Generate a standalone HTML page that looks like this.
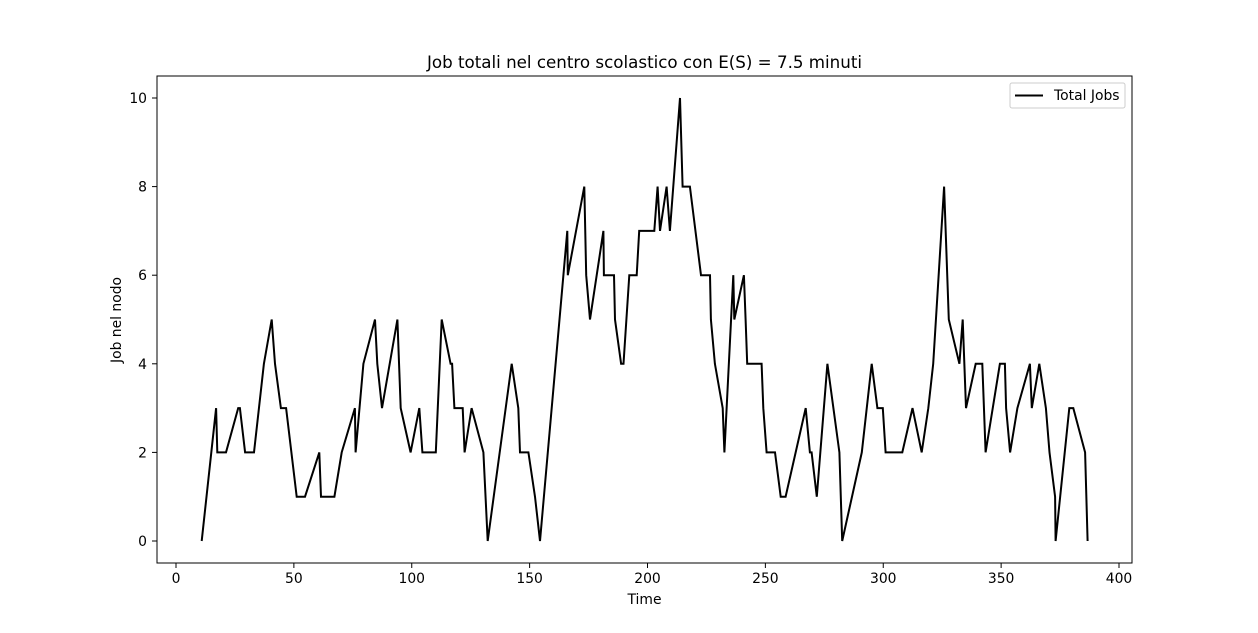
<!DOCTYPE html>
<html><head><meta charset="utf-8"><style>
body{margin:0;background:#fff}
svg{display:block;font-family:"DejaVu Sans","Liberation Sans",sans-serif}
</style></head><body>
<svg id="chart" width="1258" height="633" xmlns="http://www.w3.org/2000/svg">
<rect width="1258" height="633" fill="#fff"/>
<text x="644.5" y="68" font-size="16.7" text-anchor="middle">Job totali nel centro scolastico con E(S) = 7.5 minuti</text>
<g id="xticks"></g>
<g id="yticks"></g>
<path id="series" fill="none" stroke="#000" stroke-width="2" stroke-linejoin="miter"/>
<rect x="157" y="76" width="975" height="487" fill="none" stroke="#000" stroke-width="1"/>
<text x="644.5" y="604" font-size="13.9" text-anchor="middle">Time</text>
<text x="0" y="0" font-size="13.9" text-anchor="middle" transform="translate(121,320) rotate(-90)">Job nel nodo</text>
<g>
<rect x="1010" y="83" width="115" height="25" rx="2" fill="#fff" stroke="#ccc"/>
<line x1="1015" y1="95.5" x2="1043" y2="95.5" stroke="#000" stroke-width="2"/>
<text x="1054" y="100" font-size="13.9">Total Jobs</text>
</g>
</svg>
<script>
const times=[10.9,17,17.5,21.2,26.4,27.1,29.3,33.1,37.3,40.6,42,44.5,46.7,51.2,54.7,60.8,61.5,67.2,70.3,75.9,76.2,79.5,84.4,85.4,87.4,93.9,95.3,99.5,103.2,104.5,110.2,112.7,116.5,117.1,118.1,121.6,122.4,125.4,130.4,132.2,142.4,145.2,145.9,149.5,152.3,154.4,
166,166.2,173.2,174,175.6,181.3,181.5,185.8,186.2,188.8,189.8,192.3,195.4,196.5,202.9,204.3,205.3,208.1,209.5,213.8,214.9,218,222.7,226.5,226.9,228.6,231.9,232.6,236.4,236.8,240.9,241.6,242.3,248.4,249.1,250.5,254.1,256.5,258.6,
267.1,268.9,269.6,271.8,276.3,281.4,282.6,290.9,295.1,297.5,299.8,301,308.1,312.4,316.3,319.1,321.2,325.8,327.8,332.3,333.7,335.1,339.2,342,343.4,349.5,351.6,352.1,353.8,356.9,362.2,363,366.2,369,370.5,372.9,373.1,378.9,380.6,385.6,386.7];
const jobs=[0,3,2,2,3,3,2,2,4,5,4,3,3,1,1,2,1,1,2,3,2,4,5,4,3,5,3,2,3,2,2,5,4,4,3,3,2,3,2,0,4,3,2,2,1,0,
7,6,8,6,5,7,6,6,5,4,4,6,6,7,7,8,7,8,7,10,8,8,6,6,5,4,3,2,6,5,6,5,4,4,3,2,2,1,1,
3,2,2,1,4,2,0,2,4,3,3,2,2,3,2,3,4,8,5,4,5,3,4,4,2,4,4,3,2,3,4,3,4,3,2,1,0,3,3,2,0];
const xTicks=[0,50,100,150,200,250,300,350,400];
const yTicks=[0,2,4,6,8,10];
const NS="http://www.w3.org/2000/svg";
const X=t=>176+t*(943/400);
const Y=v=>541-v*44.3;
const xg=document.getElementById('xticks'),yg=document.getElementById('yticks');
xTicks.forEach(t=>{
 const l=document.createElementNS(NS,'line');
 l.setAttribute('x1',X(t));l.setAttribute('x2',X(t));l.setAttribute('y1',563);l.setAttribute('y2',568);l.setAttribute('stroke','#000');
 
 
 xg.appendChild(l);
 const tx=document.createElementNS(NS,'text');
 tx.setAttribute('x',X(t));tx.setAttribute('y',583);tx.setAttribute('font-size','13.9');tx.setAttribute('text-anchor','middle');tx.textContent=t;
 
 
 xg.appendChild(tx);
});
yTicks.forEach(v=>{
 const l=document.createElementNS(NS,'line');
 l.setAttribute('x1',152);l.setAttribute('x2',157);l.setAttribute('y1',Y(v));l.setAttribute('y2',Y(v));l.setAttribute('stroke','#000');
 
 
 yg.appendChild(l);
 const tx=document.createElementNS(NS,'text');
 tx.setAttribute('x',147);tx.setAttribute('y',Y(v)+5);tx.setAttribute('font-size','13.9');tx.setAttribute('text-anchor','end');tx.textContent=v;
 
 
 yg.appendChild(tx);
});
document.getElementById('series').setAttribute('d',times.map((t,i)=>(i?'L':'M')+X(t).toFixed(1)+' '+Y(jobs[i]).toFixed(1)).join(' '));
</script>
</body></html>
